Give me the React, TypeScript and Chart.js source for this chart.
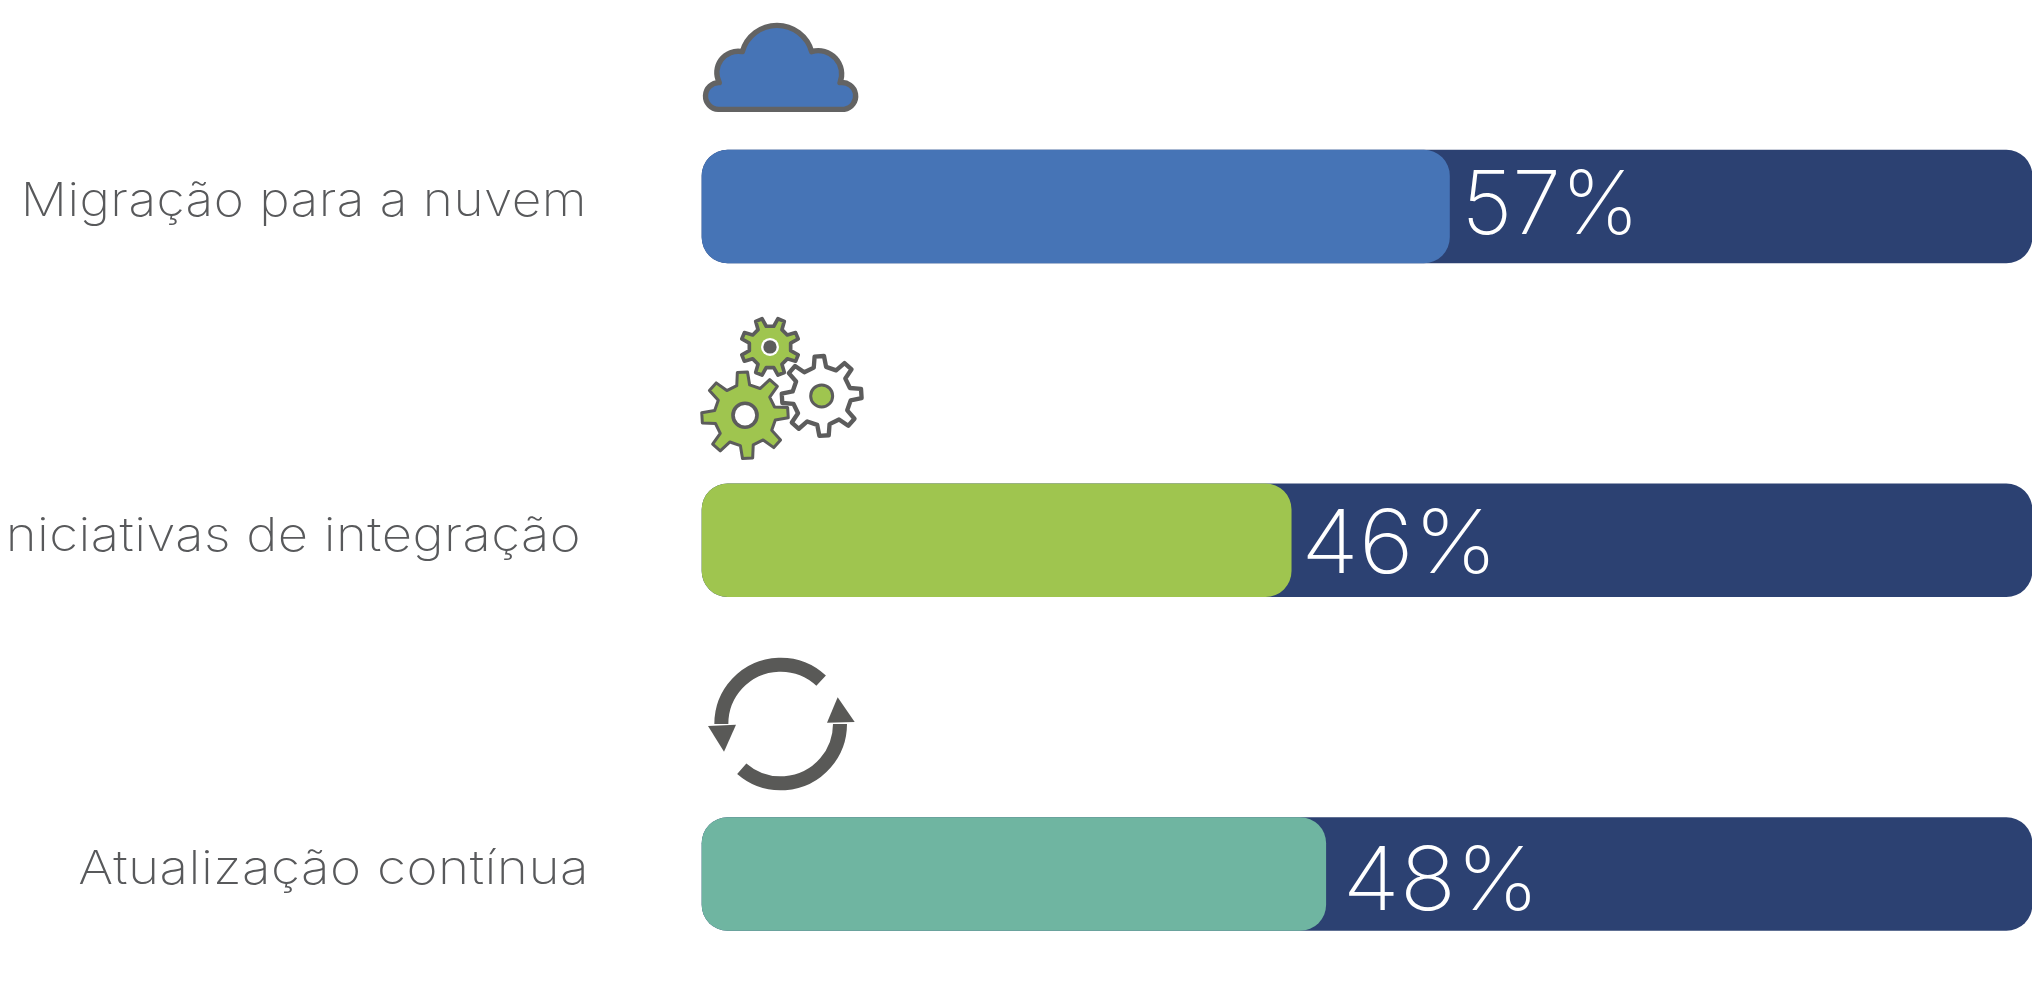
import React, { useEffect, useRef } from "react";
import { Chart, registerables } from "chart.js";

Chart.register(...registerables);

const categories = ["Migração para a nuvem", "Iniciativas de integração", "Atualização contínua"];
const filledShare = [56.2, 44.3, 46.9];
const trackShare = [100, 100, 100];
const valueLabels = ["57%", "46%", "48%"];
const fillColors = ["#4674B6", "#9FC54F", "#6FB5A1"];
const trackColor = "#2C4172";
const textColor = "#58595B";
const iconGrey = "#5C5C5C";

const categoryRightEdge = [587, 581, 589];
const categoryBaseline = [9, 11, 10];
const categoryStretch = [1.095, 1.12, 1.13];
const valueGap = [12, 10, 17];
const valueBaseline = [27, 33, 36];
const valueStretch = [1.0, 1.07, 1.06];

function gearPath(cx: number, cy: number, outer: number, root: number, teeth: number, rot: number) {
  const p = new Path2D();
  const step = (Math.PI * 2) / teeth;
  for (let i = 0; i < teeth; i++) {
    const a = rot + i * step;
    const pts: [number, number][] = [
      [root, a - step * 0.27],
      [outer, a - step * 0.15],
      [outer, a + step * 0.15],
      [root, a + step * 0.27],
    ];
    pts.forEach(([r, t], j) => {
      const x = cx + r * Math.cos(t);
      const y = cy + r * Math.sin(t);
      if (i === 0 && j === 0) p.moveTo(x, y);
      else p.lineTo(x, y);
    });
  }
  p.closePath();
  return p;
}

function disc(ctx: CanvasRenderingContext2D, x: number, y: number, r: number, fill: string, stroke?: string, lw = 0) {
  ctx.beginPath();
  ctx.arc(x, y, r, 0, Math.PI * 2);
  ctx.fillStyle = fill;
  ctx.fill();
  if (stroke) {
    ctx.strokeStyle = stroke;
    ctx.lineWidth = lw;
    ctx.stroke();
  }
}

function drawCloud(ctx: CanvasRenderingContext2D) {
  const p = new Path2D(
    "M 115 328 A 40 40 0 0 1 118 248 A 64 64 0 0 1 187 155 A 108 108 0 0 1 395 155 A 70 70 0 0 1 480 248 A 40 40 0 0 1 493 328 Z"
  );
  ctx.fillStyle = fillColors[0];
  ctx.fill(p);
  ctx.strokeStyle = "#636363";
  ctx.lineWidth = 16;
  ctx.lineJoin = "round";
  ctx.stroke(p);
}

function drawGears(ctx: CanvasRenderingContext2D) {
  ctx.lineJoin = "round";
  ctx.strokeStyle = iconGrey;
  ctx.lineWidth = 13;
  const white = gearPath(425, 287, 120, 88, 8, -0.06);
  ctx.fillStyle = "#FFFFFF";
  ctx.fill(white);
  ctx.stroke(white);
  disc(ctx, 425, 287, 33, fillColors[1], iconGrey, 9);
  const big = gearPath(195, 345, 130, 92, 8, -0.06);
  ctx.fillStyle = fillColors[1];
  ctx.fill(big);
  ctx.stroke(big);
  disc(ctx, 195, 345, 36, "#FFFFFF", iconGrey, 11);
  const small = gearPath(270, 140, 88, 63, 8, Math.PI / 8);
  ctx.fillStyle = fillColors[1];
  ctx.strokeStyle = iconGrey;
  ctx.lineWidth = 11;
  ctx.fill(small);
  ctx.stroke(small);
  disc(ctx, 270, 140, 27, "#FFFFFF");
  disc(ctx, 270, 140, 20, iconGrey);
}

function drawLoop(ctx: CanvasRenderingContext2D) {
  const rad = (d: number) => (d * Math.PI) / 180;
  ctx.strokeStyle = "#595957";
  ctx.fillStyle = "#595957";
  ctx.lineWidth = 42;
  ctx.lineCap = "butt";
  ctx.beginPath();
  ctx.arc(302, 252, 178, rad(-47), rad(180), true);
  ctx.stroke();
  ctx.beginPath();
  ctx.arc(302, 252, 178, rad(131), rad(0), true);
  ctx.stroke();
  ctx.beginPath();
  ctx.moveTo(84, 258);
  ctx.lineTo(168, 254);
  ctx.lineTo(132, 335);
  ctx.closePath();
  ctx.fill();
  ctx.beginPath();
  ctx.moveTo(441, 248);
  ctx.lineTo(524, 246);
  ctx.lineTo(473, 172);
  ctx.closePath();
  ctx.fill();
}

const iconDrawers = [drawCloud, drawGears, drawLoop];
const iconOffsetX = [-22, -22, -22];
const iconOffsetY = [-206.5, -240, -234];

const annotate = {
  id: "annotate",
  afterDatasetsDraw(chart: any) {
    const { ctx, scales } = chart;
    const left = scales.x.getPixelForValue(0);
    categories.forEach((name, i) => {
      const y = scales.y.getPixelForValue(i);
      ctx.save();
      ctx.font = '200 47px Inter, Lato, sans-serif';
      ctx.letterSpacing = "0.4px";
      ctx.textAlign = "right";
      ctx.textBaseline = "alphabetic";
      ctx.fillStyle = textColor;
      ctx.translate(categoryRightEdge[i], y + categoryBaseline[i]);
      ctx.scale(categoryStretch[i], 1);
      ctx.fillText(name, 0, 0);
      ctx.restore();

      ctx.save();
      ctx.font = '200 88px Inter, Lato, sans-serif';
      ctx.textAlign = "left";
      ctx.textBaseline = "alphabetic";
      ctx.fillStyle = "#FFFFFF";
      ctx.translate(scales.x.getPixelForValue(filledShare[i]) + valueGap[i], y + valueBaseline[i]);
      ctx.scale(valueStretch[i], 1);
      ctx.fillText(valueLabels[i], 0, 0);
      ctx.restore();

      ctx.save();
      ctx.translate(left + iconOffsetX[i], y + iconOffsetY[i]);
      ctx.scale(1 / 3, 1 / 3);
      iconDrawers[i](ctx);
      ctx.restore();
    });
  },
};

export default function App() {
  const ref = useRef<HTMLCanvasElement>(null);
  useEffect(() => {
    document.body.style.margin = "0";
    document.body.style.overflow = "hidden";
    const chart = new Chart(ref.current!, {
      type: "bar",
      data: {
        labels: categories,
        datasets: [
          {
            label: "Adoção",
            data: filledShare,
            backgroundColor: fillColors,
            borderRadius: 26,
            borderSkipped: false,
            barThickness: 113,
            clip: false,
            order: 1,
          },
          {
            label: "Total",
            data: trackShare,
            backgroundColor: trackColor,
            borderRadius: 26,
            borderSkipped: false,
            barThickness: 113,
            clip: false,
            order: 2,
          },
        ],
      } as any,
      options: {
        indexAxis: "y",
        animation: false,
        responsive: false,
        layout: { padding: { left: 702, right: 0, top: 206.5, bottom: 113 } },
        plugins: { legend: { display: false }, tooltip: { enabled: false }, title: { display: false } },
        datasets: { bar: { grouped: false } },
        scales: {
          x: { min: 0, max: 100, display: false, grid: { display: false } },
          y: { type: "category", offset: false, display: false, grid: { display: false } },
        },
      } as any,
      plugins: [annotate],
    });
    return () => chart.destroy();
  }, []);
  return <canvas ref={ref} width={2032} height={987} style={{ display: "block" }} />;
}
